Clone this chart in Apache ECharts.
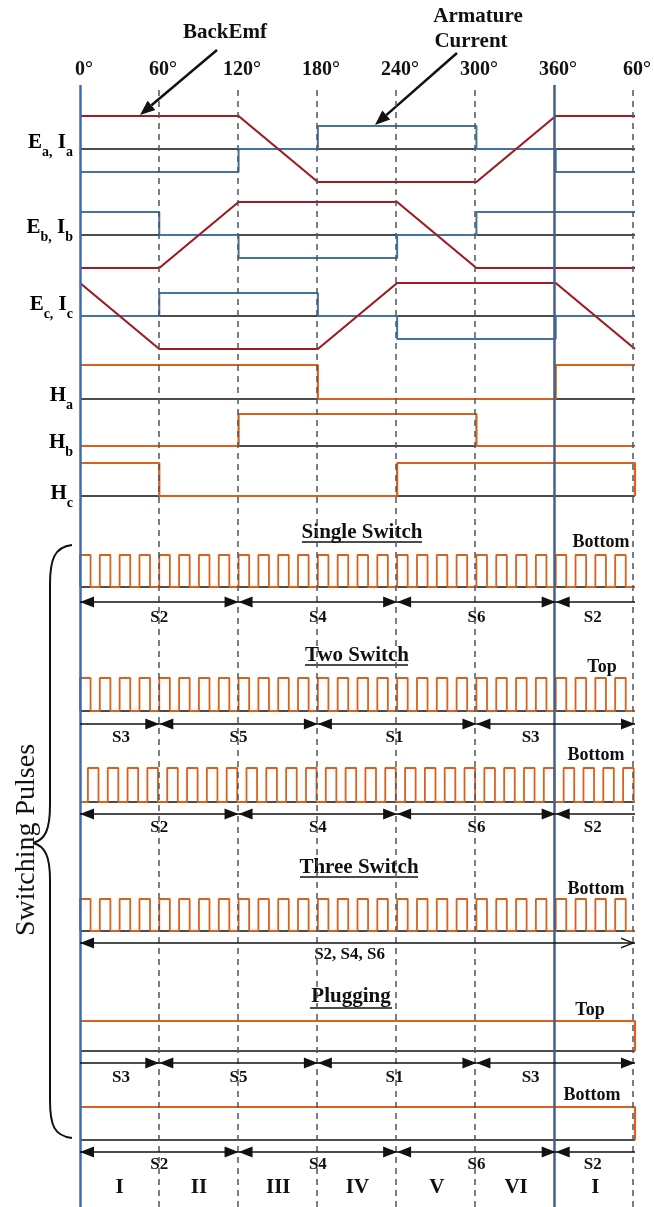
<!DOCTYPE html>
<html>
<head>
<meta charset="utf-8">
<script src="https://cdn.jsdelivr.net/npm/echarts@6/dist/echarts.min.js"></script>
<style>
  html, body { margin: 0; padding: 0; background: #fff; }
  #chart { width: 654px; height: 1207px; }
</style>
</head>
<body>
<div id="chart"></div>
<script>
// ---- electrical angle ----
const sweepDeg = [0, 60, 120, 180, 240, 300, 360, 420];
const degLabels = ['0°', '60°', '120°', '180°', '240°', '300°', '360°', '60°'];
const sectorMid = [30, 90, 150, 210, 270, 330, 390];
const sectorNames = ['I', 'II', 'III', 'IV', 'V', 'VI', 'I'];

// ---- trapezoidal back-EMF, level at each sweepDeg point ----
const emfA = [1, 1, 1, -1, -1, -1, 1, 1];
const emfB = [-1, -1, 1, 1, 1, -1, -1, -1];
const emfC = [1, -1, -1, -1, 1, 1, 1, -1];

// ---- armature current, held from each sweepDeg point to the next ----
const curA = [-0.7, -0.7, 0, 0.7, 0.7, 0, -0.7, -0.7];
const curB = [0.7, 0, -0.7, -0.7, 0, 0.7, 0.7, 0.7];
const curC = [0, 0.7, 0.7, 0, -0.7, -0.7, 0, 0];

// ---- hall sensor states ----
const hallA = [1, 1, 1, 0, 0, 0, 1, 1];
const hallB = [0, 0, 1, 1, 1, 0, 0, 0];
const hallC = [1, 0, 0, 0, 1, 1, 1, 0];

// ---- plugging: gate held on across the sweep ----
const plugTop = [1, 1, 1, 1, 1, 1, 1, 0];
const plugBottom = [1, 1, 1, 1, 1, 1, 1, 0];

// ---- PWM chopping: rising edges (deg) and on-time (deg) ----
const chopEdges = [0, 15, 30, 45, 60, 75, 90, 105, 120, 135, 150, 165, 180, 195,
                   210, 225, 240, 255, 270, 285, 300, 315, 330, 345, 360, 375, 390, 405];
const chopEdgesLag = [6, 21, 36, 51, 66, 81, 96, 111, 126, 141, 156, 171, 186, 201,
                      216, 231, 246, 261, 276, 291, 306, 321, 336, 351, 366, 381, 396, 411];
const chopOn = 8;

// ---- conducting switches ----
const lowSwitches = ['S2', 'S4', 'S6', 'S2'];
const lowSpans = [[0, 120], [120, 240], [240, 360], [360, 420]];
const lowLabelDeg = [60, 180, 300, 388];
const highSwitches = ['S3', 'S5', 'S1', 'S3'];
const highSpans = [[0, 60], [60, 180], [180, 300], [300, 420]];
const highLabelDeg = [31, 120, 238, 341];
const allLowSwitches = ['S2, S4, S6'];
const allLowSpan = [[0, 420]];
const allLowLabelDeg = [204];

// ================= drawing =================
const SERIF = '"Liberation Serif", "DejaVu Serif", serif';
const INK = '#111';
const EMF_COLOR = '#a01c22';
const CUR_COLOR = '#44739f';
const GATE_COLOR = '#d8621c';
const PLOT_LEFT = 80, PLOT_RIGHT = 19;

const grids = [], xAxes = [], yAxes = [], series = [];

function addGrid(top, height, yMin, yMax, xExtra) {
  grids.push({ left: PLOT_LEFT, right: PLOT_RIGHT, top: top, height: height });
  const i = grids.length - 1;
  xAxes.push(Object.assign({
    gridIndex: i, type: 'value', min: sweepDeg[0], max: sweepDeg[sweepDeg.length - 1], show: false
  }, xExtra || {}));
  yAxes.push({ gridIndex: i, type: 'value', min: yMin, max: yMax, show: false });
  return i;
}

function line(g, data, color, width, extra) {
  series.push(Object.assign({
    type: 'line', xAxisIndex: g, yAxisIndex: g, data: data, symbol: 'none',
    silent: true, animation: false, clip: false,
    lineStyle: { color: color, width: width }
  }, extra || {}));
}

const atSweep = levels => sweepDeg.map((d, i) => [d, levels[i]]);
const baseline = g => line(g, [[sweepDeg[0], 0], [sweepDeg[sweepDeg.length - 1], 0]], INK, 1.3);

function chopPoints(edges, on) {
  const pts = [[sweepDeg[0], 0]];
  edges.forEach(e => { pts.push([e, 0], [e, 1], [e + on, 1], [e + on, 0]); });
  pts.push([sweepDeg[sweepDeg.length - 1], 0]);
  return pts;
}

// full-height grid: angle ticks along the top and the sector guides
const gFull = addGrid(85, 1122, 0, 1, {
  show: true, position: 'top', interval: 60,
  axisLine: { show: false }, axisTick: { show: false }, splitLine: { show: false },
  axisLabel: {
    show: true, showMinLabel: true, showMaxLabel: true, margin: 5,
    fontFamily: SERIF, fontSize: 20, fontWeight: 'bold', color: INK, padding: [0, 0, 0, 8],
    formatter: v => degLabels[sweepDeg.indexOf(v)]
  }
});
series.push({
  type: 'line', xAxisIndex: gFull, yAxisIndex: gFull, data: [[0, 0]], symbol: 'none',
  silent: true, animation: false, z: 1,
  markLine: {
    silent: true, animation: false, symbol: ['none', 'none'], label: { show: false },
    lineStyle: { color: '#4c5661', width: 1.5, type: [6, 5] },
    data: sweepDeg.filter(d => d !== 0 && d !== 360).map(d => ({ xAxis: d }))
  }
});
series.push({
  type: 'line', xAxisIndex: gFull, yAxisIndex: gFull, data: [[0, 0]], symbol: 'none',
  silent: true, animation: false, z: 10,
  markLine: {
    silent: true, animation: false, symbol: ['none', 'none'], label: { show: false },
    data: [
      { xAxis: 0, lineStyle: { color: '#3c6db4', width: 2.5, type: 'solid' } },
      { xAxis: 360, lineStyle: { color: '#45618a', width: 2.5, type: 'solid' } }
    ]
  }
});

// phase back-EMF and current rows
[[149, emfA, curA], [235, emfB, curB], [316, emfC, curC]].forEach(([base, emf, cur]) => {
  const g = addGrid(base - 33, 66, -1, 1);
  baseline(g);
  line(g, atSweep(cur), CUR_COLOR, 2, { step: 'end' });
  line(g, atSweep(emf), EMF_COLOR, 2.2);
});

// hall sensor rows
[[365, 34, hallA], [414, 32, hallB], [463, 33, hallC]].forEach(([top, h, hall]) => {
  const g = addGrid(top, h, 0, 1);
  baseline(g);
  line(g, atSweep(hall), GATE_COLOR, 2.2, { step: 'end' });
});

// switching pulse trains
[[555, 32, chopEdges], [678, 33, chopEdges], [768, 34, chopEdgesLag], [899, 32, chopEdges]]
  .forEach(([top, h, edges]) => {
    const g = addGrid(top, h, 0, 1);
    baseline(g);
    line(g, chopPoints(edges, chopOn), GATE_COLOR, 1.8);
  });

// plugging rows
[[1021, 30, plugTop], [1107, 33, plugBottom]].forEach(([top, h, lv]) => {
  const g = addGrid(top, h, 0, 1);
  baseline(g);
  line(g, atSweep(lv), GATE_COLOR, 2.2, { step: 'end' });
});

// conduction spans with switch names (heads sit with their tip on the span end)
const TRI = 'triangle';
const CHEVRON = 'path://M0,14 L7,0 L14,14 L12.2,14 L7,3.6 L1.8,14 Z';
const lowHeads = [[TRI, TRI], [TRI, TRI], [TRI, TRI], [TRI, 'none']];
const highHeads = [['none', TRI], [TRI, TRI], [TRI, TRI], [TRI, TRI]];
const allHeads = [[TRI, CHEVRON]];
const HEAD_SIZE = [11, 14];
const HIDDEN_POINT = { color: 'rgba(0,0,0,0)', opacity: 1 };

function head(coord, sym) {
  return { coord: coord, symbol: sym, symbolSize: HEAD_SIZE, symbolOffset: [0, HEAD_SIZE[1] / 2] };
}

function spanRow(y, names, spans, labelDeg, heads, labelDy) {
  const g = addGrid(y - 10, 20, -1, 1);
  series.push({
    type: 'scatter', xAxisIndex: g, yAxisIndex: g, silent: true, animation: false,
    symbolSize: 1, itemStyle: HIDDEN_POINT,
    data: labelDeg.map((d, i) => ({ value: [d, 0], name: names[i] })),
    label: {
      show: true, position: 'inside', offset: [0, labelDy], formatter: '{b}',
      fontFamily: SERIF, fontSize: 17, fontWeight: 'bold', color: INK, opacity: 1
    },
    markLine: {
      silent: true, animation: false, label: { show: false },
      lineStyle: { color: INK, width: 1.5, type: 'solid' },
      data: spans.map((s, i) => [head([s[0], 0], heads[i][0]), head([s[1], 0], heads[i][1])])
    }
  });
}
spanRow(602, lowSwitches, lowSpans, lowLabelDeg, lowHeads, 16);
spanRow(724, highSwitches, highSpans, highLabelDeg, highHeads, 14);
spanRow(814, lowSwitches, lowSpans, lowLabelDeg, lowHeads, 14);
spanRow(943, allLowSwitches, allLowSpan, allLowLabelDeg, allHeads, 12);
spanRow(1063, highSwitches, highSpans, highLabelDeg, highHeads, 15);
spanRow(1152, lowSwitches, lowSpans, lowLabelDeg, lowHeads, 13);

// sector numbers
const gSector = addGrid(1178, 20, -1, 1);
series.push({
  type: 'scatter', xAxisIndex: gSector, yAxisIndex: gSector, silent: true, animation: false,
  symbolSize: 1, itemStyle: HIDDEN_POINT,
  data: sectorMid.map((d, i) => ({ value: [d, 0], name: sectorNames[i] })),
  label: {
    show: true, position: 'inside', formatter: '{b}',
    fontFamily: SERIF, fontSize: 21, fontWeight: 'bold', color: INK, opacity: 1
  }
});

// ---- annotations ----
const rich = {
  m: { fontFamily: SERIF, fontSize: 21, fontWeight: 'bold', color: INK, lineHeight: 24, verticalAlign: 'top' },
  s: { fontFamily: SERIF, fontSize: 14, fontWeight: 'bold', color: INK, lineHeight: 14,
       padding: [13, 0, 0, 0], verticalAlign: 'top' }
};
function rowLabel(y, text) {
  return { type: 'text', silent: true, style: { x: 73, y: y, text: text, rich: rich, align: 'right', verticalAlign: 'middle' } };
}
function plainText(x, y, text, size, weight, align) {
  return { type: 'text', silent: true, style: {
    x: x, y: y, text: text, fontFamily: SERIF, fontSize: size, fontWeight: weight || 'bold',
    fill: INK, align: align || 'center', verticalAlign: 'middle' } };
}
function underline(x1, x2, y) {
  return { type: 'line', silent: true, shape: { x1: x1, y1: y, x2: x2, y2: y }, style: { stroke: INK, lineWidth: 1.5 } };
}
function pointer(x1, y1, x2, y2) {
  const a = Math.atan2(y2 - y1, x2 - x1), L = 15, W = 6;
  const bx = x2 - L * Math.cos(a), by = y2 - L * Math.sin(a);
  const nx = -Math.sin(a) * W, ny = Math.cos(a) * W;
  return [
    { type: 'line', silent: true, shape: { x1: x1, y1: y1, x2: bx, y2: by }, style: { stroke: INK, lineWidth: 2.5 } },
    { type: 'polygon', silent: true, shape: { points: [[x2, y2], [bx + nx, by + ny], [bx - nx, by - ny]] }, style: { fill: INK } }
  ];
}
function curve(x1, y1, c1x, c1y, c2x, c2y, x2, y2) {
  return { type: 'bezierCurve', silent: true,
    shape: { x1: x1, y1: y1, cpx1: c1x, cpy1: c1y, cpx2: c2x, cpy2: c2y, x2: x2, y2: y2 },
    style: { fill: null, stroke: INK, lineWidth: 2 } };
}
function seg(x1, y1, x2, y2, w) {
  return { type: 'line', silent: true, shape: { x1: x1, y1: y1, x2: x2, y2: y2 }, style: { stroke: INK, lineWidth: w || 2 } };
}

// curly brace grouping the switching pulses
const brace = [
  curve(72, 545, 54, 547, 50, 560, 50, 585),
  seg(50, 585, 50, 805),
  curve(50, 805, 50, 830, 45, 840, 33, 843),
  curve(33, 843, 45, 846, 50, 856, 50, 880),
  seg(50, 880, 50, 1100),
  curve(50, 1100, 50, 1125, 54, 1136, 72, 1138)
];

const graphics = [
  plainText(225, 33, 'BackEmf', 21),
  plainText(478, 17, 'Armature', 21),
  plainText(471, 42, 'Current', 21),
  ...pointer(217, 50, 140, 115),
  ...pointer(457, 53, 375, 125),
  rowLabel(144, '{m|E}{s|a,}{m| I}{s|a}'),
  rowLabel(229, '{m|E}{s|b,}{m| I}{s|b}'),
  rowLabel(306, '{m|E}{s|c,}{m| I}{s|c}'),
  rowLabel(397, '{m|H}{s|a}'),
  rowLabel(444, '{m|H}{s|b}'),
  rowLabel(495, '{m|H}{s|c}'),
  plainText(362, 533, 'Single Switch', 21), underline(302, 422, 542),
  plainText(357, 656, 'Two Switch', 21), underline(305, 408, 665),
  plainText(359, 868, 'Three Switch', 21), underline(300, 418, 877),
  plainText(351, 997, 'Plugging', 21), underline(310, 392, 1008),
  plainText(601, 542, 'Bottom', 18),
  plainText(602, 667, 'Top', 18),
  plainText(596, 755, 'Bottom', 18),
  plainText(596, 889, 'Bottom', 18),
  plainText(590, 1010, 'Top', 18),
  plainText(592, 1095, 'Bottom', 18),
  { type: 'text', silent: true, x: 27, y: 840, rotation: Math.PI / 2,
    style: { x: 0, y: 0, text: 'Switching Pulses', fontFamily: SERIF, fontSize: 28,
             fill: INK, align: 'center', verticalAlign: 'middle' } },
  ...brace
];

const chart = echarts.init(document.getElementById('chart'), null, { renderer: 'canvas' });
chart.setOption({
  backgroundColor: '#fff',
  animation: false,
  grid: grids,
  xAxis: xAxes,
  yAxis: yAxes,
  series: series,
  graphic: graphics
});
</script>
</body>
</html>
